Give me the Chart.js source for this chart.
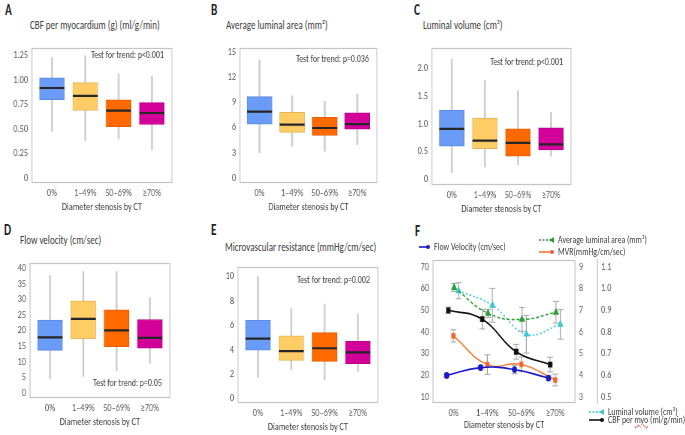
<!DOCTYPE html>
<html>
<head>
<meta charset="utf-8">
<script src="https://cdn.jsdelivr.net/npm/chart.js@4"></script>
<style>
  body { margin: 0; background: #fff; font-family: Carlito, Lato, sans-serif; }
  #fig { position: relative; width: 685px; height: 435px; overflow: hidden; }
  canvas { position: absolute; }
  .sq { transform: scaleX(0.75); transform-origin: 0 0; }
  .lab { position: absolute; font-weight: bold; font-size: 15px; color: #222; line-height: 16px; }
  .ttl { position: absolute; font-size: 12px; color: #404040; line-height: 14px; white-space: nowrap; }
  .lg { position: absolute; font-size: 10.5px; color: #404040; line-height: 10px; white-space: nowrap; display: flex; align-items: center; }
  .lg svg { margin-right: 3px; flex: none; }
  .lg span.t { display: inline-block; transform: scaleX(0.75); transform-origin: 0 50%; }
  .wavy { text-decoration: underline wavy #d33; text-decoration-thickness: 1px; }
</style>
</head>
<body>
<div id="fig">
  <div class="lab sq" style="left:5px;top:2px">A</div>
  <div class="lab sq" style="left:211px;top:2px">B</div>
  <div class="lab sq" style="left:414px;top:2px">C</div>
  <div class="lab sq" style="left:4px;top:222px">D</div>
  <div class="lab sq" style="left:211px;top:222px">E</div>
  <div class="lab sq" style="left:415px;top:223px">F</div>

  <div class="ttl sq" style="left:30px;top:18px">CBF per myocardium (g) (ml/g/min)</div>
  <div class="ttl sq" style="left:226px;top:18px">Average luminal area (mm²)</div>
  <div class="ttl sq" style="left:423px;top:18px">Luminal volume (cm³)</div>
  <div class="ttl sq" style="left:20px;top:233px">Flow velocity (cm/sec)</div>
  <div class="ttl sq" style="left:225px;top:240px">Microvascular resistance (mmHg/cm/sec)</div>

  <!-- canvases are drawn 4/3 wider and squeezed back, like the source figure -->
  <canvas id="cA" width="248" height="188" style="left:0px;top:29px;width:186px;height:188px"></canvas>
  <canvas id="cB" width="244" height="188" style="left:208px;top:29px;width:183px;height:188px"></canvas>
  <canvas id="cC" width="247" height="190" style="left:400px;top:29px;width:185px;height:190px"></canvas>
  <canvas id="cD" width="245" height="188" style="left:0px;top:244px;width:184px;height:188px"></canvas>
  <canvas id="cE" width="248" height="189" style="left:206px;top:248px;width:186px;height:189px"></canvas>
  <canvas id="cF" width="309" height="187" style="left:403px;top:248px;width:232px;height:187px"></canvas>

  <div class="lg" style="left:419px;top:242px">
    <svg width="12" height="8"><line x1="0" y1="4" x2="9" y2="4" stroke="#1a1acc" stroke-width="1.6"/><circle cx="9" cy="4" r="2" fill="#1a1acc"/></svg><span class="t">Flow Velocity (cm/sec)</span></div>
  <div class="lg" style="left:539px;top:235px">
    <svg width="16" height="8"><line x1="0" y1="4" x2="12" y2="4" stroke="#2e9e3a" stroke-width="1.6" stroke-dasharray="2,1.5"/><polygon points="10,4 15,1 15,7" fill="#2e9e3a"/></svg><span class="t">Average luminal area (mm²)</span></div>
  <div class="lg" style="left:539px;top:247px">
    <svg width="16" height="8"><line x1="0" y1="4" x2="13" y2="4" stroke="#f07a30" stroke-width="1.6"/><circle cx="13" cy="4" r="2" fill="#f0584a"/></svg><span class="t">MVR(mmHg/cm/sec)</span></div>
  <div class="lg" style="left:589px;top:407px">
    <svg width="16" height="8"><line x1="0" y1="4" x2="12" y2="4" stroke="#3ec8d0" stroke-width="1.6" stroke-dasharray="2,1.5"/><polygon points="10,4 15,1 15,7" fill="#3ec8d0"/></svg><span class="t">Luminal volume (cm³)</span></div>
  <div class="lg" style="left:589px;top:415px">
    <svg width="16" height="8"><line x1="0" y1="4" x2="13" y2="4" stroke="#111" stroke-width="1.6"/><circle cx="13" cy="4" r="2" fill="#111"/></svg><span class="t">CBF per <span class="wavy">myo</span> (ml/g/min)</span></div>
</div>

<script>
// groups on every x axis
const groups = ['0%', '1–49%', '50–69%', '≥70%'];

// A: CBF per myocardium (ml/g/min)
const cbfLow  = [0.48, 0.385, 0.40, 0.29];
const cbfQ1   = [0.80, 0.69, 0.525, 0.547];
const cbfMed  = [0.92, 0.84, 0.69, 0.665];
const cbfQ3   = [1.025, 0.975, 0.80, 0.77];
const cbfHigh = [1.23, 1.25, 1.066, 1.04];
const cbfTicks = [0, 0.25, 0.5, 0.75, 1.0, 1.25];
const cbfTickLabels = ['0', '0.25', '0.50', '0.75', '1.00', '1.25'];

// B: average luminal area (mm2)
const areaLow  = [2.98, 3.76, 3.2, 4.0];
const areaQ1   = [6.4, 5.43, 5.06, 5.8];
const areaMed  = [7.89, 6.36, 5.95, 6.4];
const areaQ3   = [9.68, 7.8, 7.22, 7.74];
const areaHigh = [14.07, 9.79, 9.12, 9.97];
const areaTicks = [0, 3, 6, 9, 12, 15];
const areaTickLabels = ['0', '3', '6', '9', '12', '15'];

// C: luminal volume (cm3)
const volLow  = [0.12, 0.225, 0.264, 0.42];
const volQ1   = [0.60, 0.556, 0.42, 0.53];
const volMed  = [0.91, 0.70, 0.657, 0.63];
const volQ3   = [1.25, 1.107, 0.91, 0.93];
const volHigh = [2.17, 1.78, 1.6, 1.21];
const volTicks = [0, 0.5, 1.0, 1.5, 2.0];
const volTickLabels = ['0', '0.5', '1.0', '1.5', '2.0'];

// D: flow velocity (cm/sec)
const velLow  = [4.5, 5.3, 7.1, 9.6];
const velQ1   = [13.7, 17.4, 14.9, 14.4];
const velMed  = [17.9, 23.8, 20.1, 17.7];
const velQ3   = [23.4, 29.6, 26.7, 23.6];
const velHigh = [37.7, 39, 39, 30.6];
const velTicks = [0, 5, 10, 15, 20, 25, 30, 35, 40];
const velTickLabels = ['0', '5', '10', '15', '20', '25', '30', '35', '40'];

// E: microvascular resistance (mmHg/cm/sec)
const mvrLow  = [1.74, 2.38, 1.54, 2.23];
const mvrQ1   = [3.97, 3.13, 3.05, 2.87];
const mvrMed  = [4.92, 3.9, 4.13, 3.79];
const mvrQ3   = [6.41, 5.15, 5.41, 4.69];
const mvrHigh = [10.0, 7.38, 7.74, 6.92];
const mvrTicks = [0, 2, 4, 6, 8, 10];
const mvrTickLabels = ['0', '2', '4', '6', '8', '10'];

// F: means with error bars
const flowMean = [20.0, 23.6, 22.7, 18.8];
const flowErr  = [0.8, 1.1, 1.9, 1.0];
const cbfMean  = [0.90, 0.859, 0.709, 0.65];
const cbfErr   = [0.015, 0.045, 0.034, 0.034];
const mvrMean  = [5.82, 4.5, 4.51, 3.79];
const mvrErr   = [0.28, 0.45, 0.34, 0.27];
const areaMean = [8.05, 6.86, 6.58, 6.91];
const areaErr  = [0.18, 0.19, 0.55, 0.5];
const volMean  = [0.99, 0.923, 0.79, 0.835];
const volErr   = [0.037, 0.078, 0.087, 0.068];
// horizontal nudge of each series inside its group
const flowOff = -0.2, cbfOff = -0.15, mvrOff = 0, areaOff = 0.02, volOff = 0.15;
const fLeftTicks = [10, 20, 30, 40, 50, 60, 70];
const fMidTicks = [3, 4, 5, 6, 7, 8, 9];
const fRightTicks = [0.5, 0.6, 0.7, 0.8, 0.9, 1.0, 1.1];
const fRightTickLabels = ['0.5', '0.6', '0.7', '0.8', '0.9', '1.0', '1.1'];

const boxFill = ['#6a9cf7', '#ffcc66', '#ff6a00', '#d4009a'];
const boxEdge = ['#5b8be0', '#e3b35a', '#e35e00', '#b8008a'];

// canvases are squeezed horizontally by SQ, so horizontal sizes are given in screen px through px()
const SQ = 0.75;
const px = v => v / SQ;

Chart.defaults.font.family = 'Carlito, Lato, sans-serif';
Chart.defaults.font.size = 11;
Chart.defaults.color = '#595959';

// light grey frame round the plot area
const framePlugin = {
  id: 'frame',
  afterDatasetsDraw(chart) {
    const a = chart.chartArea, ctx = chart.ctx;
    ctx.save();
    ctx.strokeStyle = '#c4c4c4';
    ctx.lineWidth = 1.2;
    ctx.strokeRect(a.left, Math.round(a.top) + 0.5, a.right - a.left, Math.round(a.bottom - a.top) - 1);
    ctx.restore();
  }
};

// "Test for trend" text in a corner of the plot
const notePlugin = {
  id: 'note',
  afterDraw(chart, args, opts) {
    if (!opts.text) return;
    const a = chart.chartArea, ctx = chart.ctx;
    ctx.save();
    ctx.font = '10.5px Carlito, Lato, sans-serif';
    ctx.fillStyle = '#404040';
    ctx.textAlign = 'right';
    ctx.textBaseline = 'middle';
    const y = opts.bottom ? a.bottom - opts.dy : a.top + opts.dy;
    ctx.fillText(opts.text, a.right - px(8), y);
    ctx.restore();
  }
};

// grey error bars with caps, read through the dataset's y scale
const errPlugin = {
  id: 'errbars',
  beforeDatasetsDraw(chart) {
    const ctx = chart.ctx;
    chart.data.datasets.forEach((ds, di) => {
      if (!ds.errors) return;
      const sc = chart.scales[ds.yAxisID];
      chart.getDatasetMeta(di).data.forEach((pt, i) => {
        const v = ds.data[i].y, e = ds.errors[i];
        const y0 = sc.getPixelForValue(v - e), y1 = sc.getPixelForValue(v + e);
        ctx.save();
        ctx.strokeStyle = '#a8a8a8';
        ctx.lineWidth = px(1);
        ctx.beginPath();
        ctx.moveTo(pt.x, y0); ctx.lineTo(pt.x, y1);
        ctx.stroke();
        ctx.lineWidth = 1;
        ctx.beginPath();
        ctx.moveTo(pt.x - px(3), y0); ctx.lineTo(pt.x + px(3), y0);
        ctx.moveTo(pt.x - px(3), y1); ctx.lineTo(pt.x + px(3), y1);
        ctx.stroke();
        ctx.restore();
      });
    });
  }
};

function xAxis(max, height) {
  return {
    type: 'linear', min: -0.6, max: max, offset: false, bounds: 'data',
    grid: { display: false, drawTicks: false }, border: { display: false },
    afterBuildTicks: s => { s.ticks = groups.map((g, i) => ({ value: i })); },
    afterFit: s => { s.height = height; },
    ticks: { padding: 4, autoSkip: false, maxRotation: 0, callback: v => groups[v] },
    title: { display: true, text: 'Diameter stenosis by CT', color: '#404040', font: { size: 11 }, padding: { top: 0, bottom: 3 } }
  };
}

function yAxis(min, max, ticks, labels, width, extra) {
  return Object.assign({
    min: min, max: max, bounds: 'data',
    grid: { display: false, drawTicks: false }, border: { display: false },
    afterBuildTicks: s => { s.ticks = ticks.map(v => ({ value: v })); },
    afterFit: s => { s.width = px(width); },
    ticks: { padding: px(4), callback: (v, i) => labels[i] }
  }, extra || {});
}

function boxChart(id, low, q1, med, q3, high, ticks, labels, yMin, yMax, yWidth, note) {
  new Chart(document.getElementById(id), {
    type: 'bar',
    data: {
      datasets: [
        {
          type: 'scatter', order: 0,
          data: med.map((v, i) => ({ x: i, y: v })),
          pointStyle: 'line', pointRadius: px(12.5), pointHoverRadius: px(12.5),
          pointBorderColor: '#262626', pointBorderWidth: 2.2
        },
        {
          type: 'bar', order: 1, grouped: false, barThickness: px(25),
          data: q1.map((v, i) => ({ x: i, y: [v, q3[i]] })),
          backgroundColor: boxFill, borderColor: boxEdge, borderWidth: 1, borderSkipped: false
        },
        {
          type: 'bar', order: 2, grouped: false, barThickness: px(1.5),
          data: low.map((v, i) => ({ x: i, y: [v, high[i]] })),
          backgroundColor: '#cfcfcf'
        }
      ]
    },
    options: {
      responsive: false, animation: false, events: [],
      layout: { padding: { top: 10, right: px(10), left: 0, bottom: 0 } },
      plugins: { legend: { display: false }, tooltip: { enabled: false }, note: note },
      scales: { x: xAxis(3.6, 34), y: yAxis(yMin, yMax, ticks, labels, yWidth) }
    },
    plugins: [framePlugin, notePlugin]
  });
}

boxChart('cA', cbfLow, cbfQ1, cbfMed, cbfQ3, cbfHigh, cbfTicks, cbfTickLabels, -0.05, 1.33, 32,
  { text: 'Test for trend: p<0.001', dy: 8 });
boxChart('cB', areaLow, areaQ1, areaMed, areaQ3, areaHigh, areaTicks, areaTickLabels, -0.59, 15.48, 32,
  { text: 'Test for trend: p=0.036', dy: 12 });
boxChart('cC', volLow, volQ1, volMed, volQ3, volHigh, volTicks, volTickLabels, -0.10, 2.37, 32,
  { text: 'Test for trend: p<0.001', dy: 15 });
boxChart('cD', velLow, velQ1, velMed, velQ3, velHigh, velTicks, velTickLabels, -1.6, 41.8, 30,
  { text: 'Test for trend: p=0.05', dy: 15, bottom: true });
boxChart('cE', mvrLow, mvrQ1, mvrMed, mvrQ3, mvrHigh, mvrTicks, mvrTickLabels, -0.36, 10.8, 32,
  { text: 'Test for trend: p=0.002', dy: 14 });

// F: trend lines of the group means
const pts = (vals, off) => vals.map((v, i) => ({ x: i + off, y: v }));
new Chart(document.getElementById('cF'), {
  type: 'line',
  data: {
    datasets: [
      { label: 'Flow Velocity (cm/sec)', yAxisID: 'y', data: pts(flowMean, flowOff), errors: flowErr,
        borderColor: '#1a1acc', backgroundColor: '#1a1acc', borderWidth: 1.6, tension: 0.45,
        pointStyle: 'circle', pointRadius: 2.6 },
      { label: 'CBF per myo (ml/g/min)', yAxisID: 'y2', data: pts(cbfMean, cbfOff), errors: cbfErr,
        borderColor: '#111', backgroundColor: '#111', borderWidth: 1.6, tension: 0.45,
        pointStyle: 'rect', pointRadius: 3 },
      { label: 'MVR(mmHg/cm/sec)', yAxisID: 'y1', data: pts(mvrMean, mvrOff), errors: mvrErr,
        borderColor: '#f07a30', backgroundColor: '#f0584a', borderWidth: 1.4, tension: 0.45,
        pointStyle: 'rect', pointRadius: 3 },
      { label: 'Average luminal area (mm²)', yAxisID: 'y1', data: pts(areaMean, areaOff), errors: areaErr,
        borderColor: '#2e9e3a', backgroundColor: '#2e9e3a', borderWidth: 1.4, borderDash: [4, 2.5], tension: 0.45,
        pointStyle: 'triangle', pointRadius: 3.4 },
      { label: 'Luminal volume (cm³)', yAxisID: 'y2', data: pts(volMean, volOff), errors: volErr,
        borderColor: '#3ec8d0', backgroundColor: '#3ec8d0', borderWidth: 1.4, borderDash: [2.5, 2.5], tension: 0.45,
        pointStyle: 'triangle', pointRadius: 3.4 }
    ]
  },
  options: {
    responsive: false, animation: false, events: [],
    layout: { padding: { top: 10, right: 0, left: 0, bottom: 0 } },
    plugins: { legend: { display: false }, tooltip: { enabled: false } },
    scales: {
      x: xAxis(3.58, 32),
      y: yAxis(7.3, 73.2, fLeftTicks, fLeftTicks.map(String), 30, { position: 'left' }),
      y1: yAxis(2.73, 9.32, fMidTicks, fMidTicks.map(String), 22, { position: 'right', weight: 0 }),
      y2: yAxis(0.473, 1.132, fRightTicks, fRightTickLabels, 38,
        { position: 'right', weight: 1, border: { display: true, color: '#bfbfbf', width: px(1) } })
    }
  },
  plugins: [errPlugin, framePlugin]
});
</script>
</body>
</html>
